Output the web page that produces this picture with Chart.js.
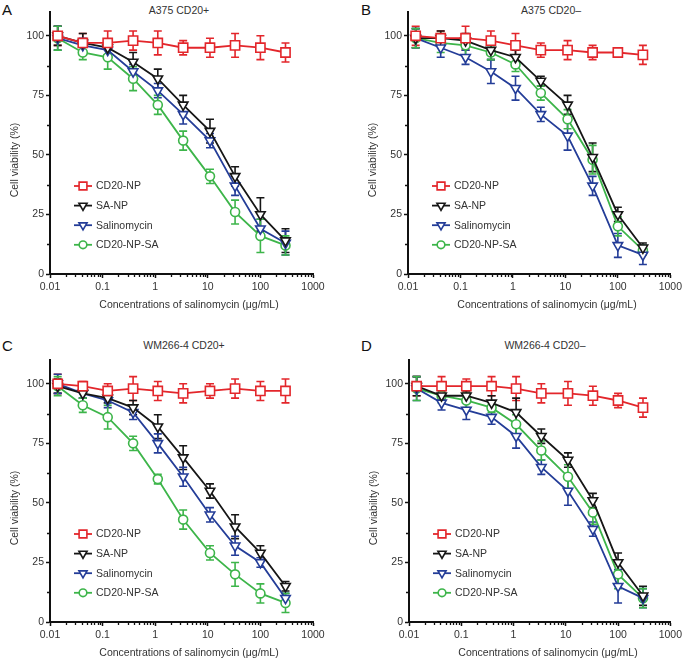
<!DOCTYPE html>
<html>
<head>
<meta charset="utf-8">
<script src="https://cdn.jsdelivr.net/npm/chart.js@4.4.1/dist/chart.umd.min.js"></script>
<style>
  body { margin: 0; width: 685px; height: 662px; overflow: hidden; background: #fff; position: relative;
         font-family: "Liberation Sans", Arial, sans-serif; color: #333; }
  canvas { position: absolute; }
  .letter { position: absolute; font-size: 15px; line-height: 15px; color: #111; }
  .ptitle { position: absolute; width: 200px; text-align: center; font-size: 10.5px; line-height: 12px; }
</style>
</head>
<body>
<div class="letter" style="left:2px;top:2px">A</div>
<div class="letter" style="left:361px;top:2px">B</div>
<div class="letter" style="left:2px;top:338px">C</div>
<div class="letter" style="left:361px;top:338px">D</div>
<div class="ptitle" style="left:79px;top:4px">A375 CD20+</div>
<div class="ptitle" style="left:451px;top:4px">A375 CD20–</div>
<div class="ptitle" style="left:84px;top:339px">WM266-4 CD20+</div>
<div class="ptitle" style="left:445px;top:339px">WM266-4 CD20–</div>

<canvas id="chartA" width="342" height="314" style="left:0;top:0"></canvas>
<canvas id="chartB" width="327" height="314" style="left:358px;top:0"></canvas>
<canvas id="chartC" width="342" height="314" style="left:0;top:348px"></canvas>
<canvas id="chartD" width="326" height="314" style="left:359px;top:348px"></canvas>

<script>
// salinomycin concentrations (µg/mL)
const concentrations = [0.014, 0.042, 0.125, 0.38, 1.12, 3.4, 11, 33, 100, 300];
const seriesNames = ['CD20-NP', 'SA-NP', 'Salinomycin', 'CD20-NP-SA'];
const xTickValues = [0.01, 0.1, 1, 10, 100, 1000];
const yTickValues = [0, 25, 50, 75, 100];
const yMinorValues = [12.5, 37.5, 62.5, 87.5];
const xAxisTitle = 'Concentrations of salinomycin (μg/mL)';
const yAxisTitle = 'Cell viability (%)';

// mean viability, one row per series (same order as seriesNames)
const a375PosMeans = [
  [100, 97, 97, 98, 97, 95, 95, 96, 95, 93],
  [100, 97, 95, 89, 82, 71, 60, 41, 25, 14],
  [99, 96, 94, 85, 77, 67, 56, 37, 19, 13],
  [99, 93, 91, 82, 71, 56, 41, 26, 16, 12]
];
const a375PosErr = [
  [4, 4, 5, 4, 5, 3, 4, 5, 5, 4],
  [4, 4, 3, 4, 4, 4, 5, 4, 7, 5],
  [5, 3, 3, 3, 3, 4, 3, 4, 4, 5],
  [5, 3, 5, 5, 4, 4, 3, 5, 7, 4]
];
const a375NegMeans = [
  [100, 99, 99, 98, 96, 94, 94, 93, 93, 92],
  [99, 99, 98, 94, 91, 81, 71, 49, 25, 11],
  [99, 95, 91, 85, 78, 67, 58, 37, 12, 8],
  [99, 97, 96, 93, 88, 76, 65, 48, 20, 10]
];
const a375NegErr = [
  [4, 3, 5, 4, 5, 3, 4, 3, 2, 4],
  [4, 3, 3, 4, 3, 2, 4, 6, 3, 2],
  [4, 4, 3, 5, 5, 3, 6, 4, 5, 4],
  [4, 4, 4, 3, 3, 3, 4, 6, 4, 2]
];
const wmPosMeans = [
  [100, 99, 97, 98, 97, 96, 97, 98, 97, 97],
  [99, 96, 94, 90, 82, 69, 55, 40, 29, 15],
  [100, 96, 93, 88, 75, 61, 45, 32, 25, 10],
  [99, 91, 86, 75, 60, 43, 29, 20, 12, 8]
];
const wmPosErr = [
  [4, 2, 3, 5, 4, 4, 3, 4, 4, 5],
  [3, 2, 2, 3, 5, 5, 3, 5, 3, 2],
  [4, 2, 3, 3, 4, 4, 3, 4, 2, 2],
  [4, 3, 5, 3, 2, 4, 3, 5, 4, 4]
];
const wmNegMeans = [
  [99, 99, 99, 99, 98, 96, 96, 95, 93, 90],
  [99, 95, 95, 92, 88, 78, 68, 51, 25, 11],
  [98, 92, 89, 86, 78, 65, 55, 39, 15, 10],
  [98, 95, 93, 90, 83, 72, 61, 46, 20, 10]
];
const wmNegErr = [
  [4, 4, 3, 4, 5, 4, 5, 4, 3, 4],
  [4, 2, 2, 3, 6, 3, 3, 3, 4, 4],
  [5, 3, 4, 3, 5, 3, 6, 3, 7, 4],
  [5, 3, 3, 2, 4, 4, 5, 5, 6, 4]
];

const colors = ['#e3262b', '#161616', '#243d98', '#3db54a'];
const markers = ['rect', 'triangle', 'triangle', 'circle'];
const radii = [6.5, 5.5, 5.5, 4.5];

Chart.defaults.font.family = '"Liberation Sans", Arial, sans-serif';
Chart.defaults.font.size = 10.5;
Chart.defaults.color = '#333';

function drawMarker(ctx, style, x, y, r) {
  ctx.beginPath();
  if (style === 'rect') {
    const s = r * Math.SQRT1_2;
    ctx.rect(x - s, y - s, 2 * s, 2 * s);
  } else if (style === 'triangle') {
    let a = Math.PI;
    ctx.moveTo(x + Math.sin(a) * r, y - Math.cos(a) * r);
    a += 2 * Math.PI / 3;
    ctx.lineTo(x + Math.sin(a) * r, y - Math.cos(a) * r);
    a += 2 * Math.PI / 3;
    ctx.lineTo(x + Math.sin(a) * r, y - Math.cos(a) * r);
    ctx.closePath();
  } else {
    ctx.arc(x, y, r, 0, Math.PI * 2);
  }
  ctx.fill();
  ctx.stroke();
}

// error bars under the markers
const errorBars = {
  id: 'errorBars',
  beforeDatasetsDraw(chart) {
    const { ctx, scales: { x, y } } = chart;
    chart.data.datasets.forEach(ds => {
      ctx.save();
      ctx.strokeStyle = ds.borderColor;
      ctx.lineWidth = 1.6;
      ds.data.forEach((p, j) => {
        const px = x.getPixelForValue(p.x);
        const top = y.getPixelForValue(p.y + ds.errors[j]);
        const bot = y.getPixelForValue(p.y - ds.errors[j]);
        ctx.beginPath();
        ctx.moveTo(px, top); ctx.lineTo(px, bot);
        ctx.moveTo(px - 4, top); ctx.lineTo(px + 4, top);
        ctx.moveTo(px - 4, bot); ctx.lineTo(px + 4, bot);
        ctx.stroke();
      });
      ctx.restore();
    });
  }
};

// minor ticks, axis titles, legend inside plot
const decor = {
  id: 'decor',
  afterDraw(chart) {
    const { ctx, chartArea: ca, scales: { x, y } } = chart;
    ctx.save();
    ctx.strokeStyle = '#111';
    ctx.lineWidth = 1.3;
    ctx.beginPath();
    for (let e = -2; e < 3; e++) {
      for (let m = 2; m <= 9; m++) {
        const px = Math.round(x.getPixelForValue(m * Math.pow(10, e))) + 0.5;
        ctx.moveTo(px, ca.bottom); ctx.lineTo(px, ca.bottom + 3);
      }
    }
    yMinorValues.forEach(v => {
      const py = Math.round(y.getPixelForValue(v)) + 0.5;
      ctx.moveTo(ca.left - 3, py); ctx.lineTo(ca.left, py);
    });
    ctx.stroke();

    ctx.fillStyle = '#333';
    ctx.font = '10.5px "Liberation Sans", Arial, sans-serif';
    ctx.textAlign = 'center';
    ctx.textBaseline = 'middle';
    ctx.fillText(xAxisTitle, ca.left + 139, ca.bottom + 31);
    ctx.save();
    ctx.translate(15, ca.top + 148);
    ctx.rotate(-Math.PI / 2);
    ctx.fillText(yAxisTitle, 0, 0);
    ctx.restore();

    ctx.textAlign = 'left';
    chart.data.datasets.forEach((ds, i) => {
      const ly = ca.top + 174 + i * 19.6;
      const lx = ca.left + 24;
      ctx.strokeStyle = ds.borderColor;
      ctx.lineWidth = 1.8;
      ctx.beginPath();
      ctx.moveTo(lx, ly); ctx.lineTo(lx + 18, ly);
      ctx.stroke();
      ctx.fillStyle = '#fff';
      ctx.lineWidth = 1.6;
      drawMarker(ctx, markers[i], lx + 9, ly, radii[i] * 0.85);
      ctx.fillStyle = '#333';
      ctx.fillText(ds.label, lx + 22, ly + 0.5);
    });
    ctx.restore();
  }
};

function makeChart(id, means, errs, padRight) {
  const datasets = seriesNames.map((name, i) => ({
    label: name,
    data: concentrations.map((c, j) => ({ x: c, y: means[i][j] })),
    errors: errs[i],
    borderColor: colors[i],
    backgroundColor: '#fff',
    borderWidth: 1.8,
    pointStyle: markers[i],
    pointRotation: markers[i] === 'triangle' ? 180 : 0,
    pointRadius: radii[i],
    pointBorderWidth: 1.6,
    pointBackgroundColor: '#fff',
    tension: 0
  }));
  return new Chart(document.getElementById(id), {
    type: 'line',
    data: { datasets },
    plugins: [errorBars, decor],
    options: {
      responsive: false,
      animation: false,
      devicePixelRatio: 1,
      layout: { padding: { top: 12, right: padRight, bottom: 0, left: 0 } },
      plugins: { legend: { display: false }, tooltip: { enabled: false } },
      scales: {
        x: {
          type: 'logarithmic',
          min: 0.01,
          max: 1000,
          afterBuildTicks: s => { s.ticks = xTickValues.map(v => ({ value: v })); },
          afterFit: s => { s.height = 40; },
          grid: { drawOnChartArea: false, tickLength: 4, tickColor: '#111', tickWidth: 1.5 },
          border: { color: '#111', width: 2 },
          ticks: {
            autoSkip: false, maxRotation: 0, padding: 3,
            callback: v => String(Number(Number(v).toPrecision(1)))
          }
        },
        y: {
          min: 0,
          max: 110,
          afterBuildTicks: s => { s.ticks = yTickValues.map(v => ({ value: v })); },
          afterFit: s => { s.width = 50; },
          grid: { drawOnChartArea: false, tickLength: 4, tickColor: '#111', tickWidth: 1.5 },
          border: { color: '#111', width: 2 },
          ticks: { padding: 2 }
        }
      }
    }
  });
}

makeChart('chartA', a375PosMeans, a375PosErr, 29);
makeChart('chartB', a375NegMeans, a375NegErr, 13);
makeChart('chartC', wmPosMeans, wmPosErr, 29);
makeChart('chartD', wmNegMeans, wmNegErr, 13);
</script>
</body>
</html>
